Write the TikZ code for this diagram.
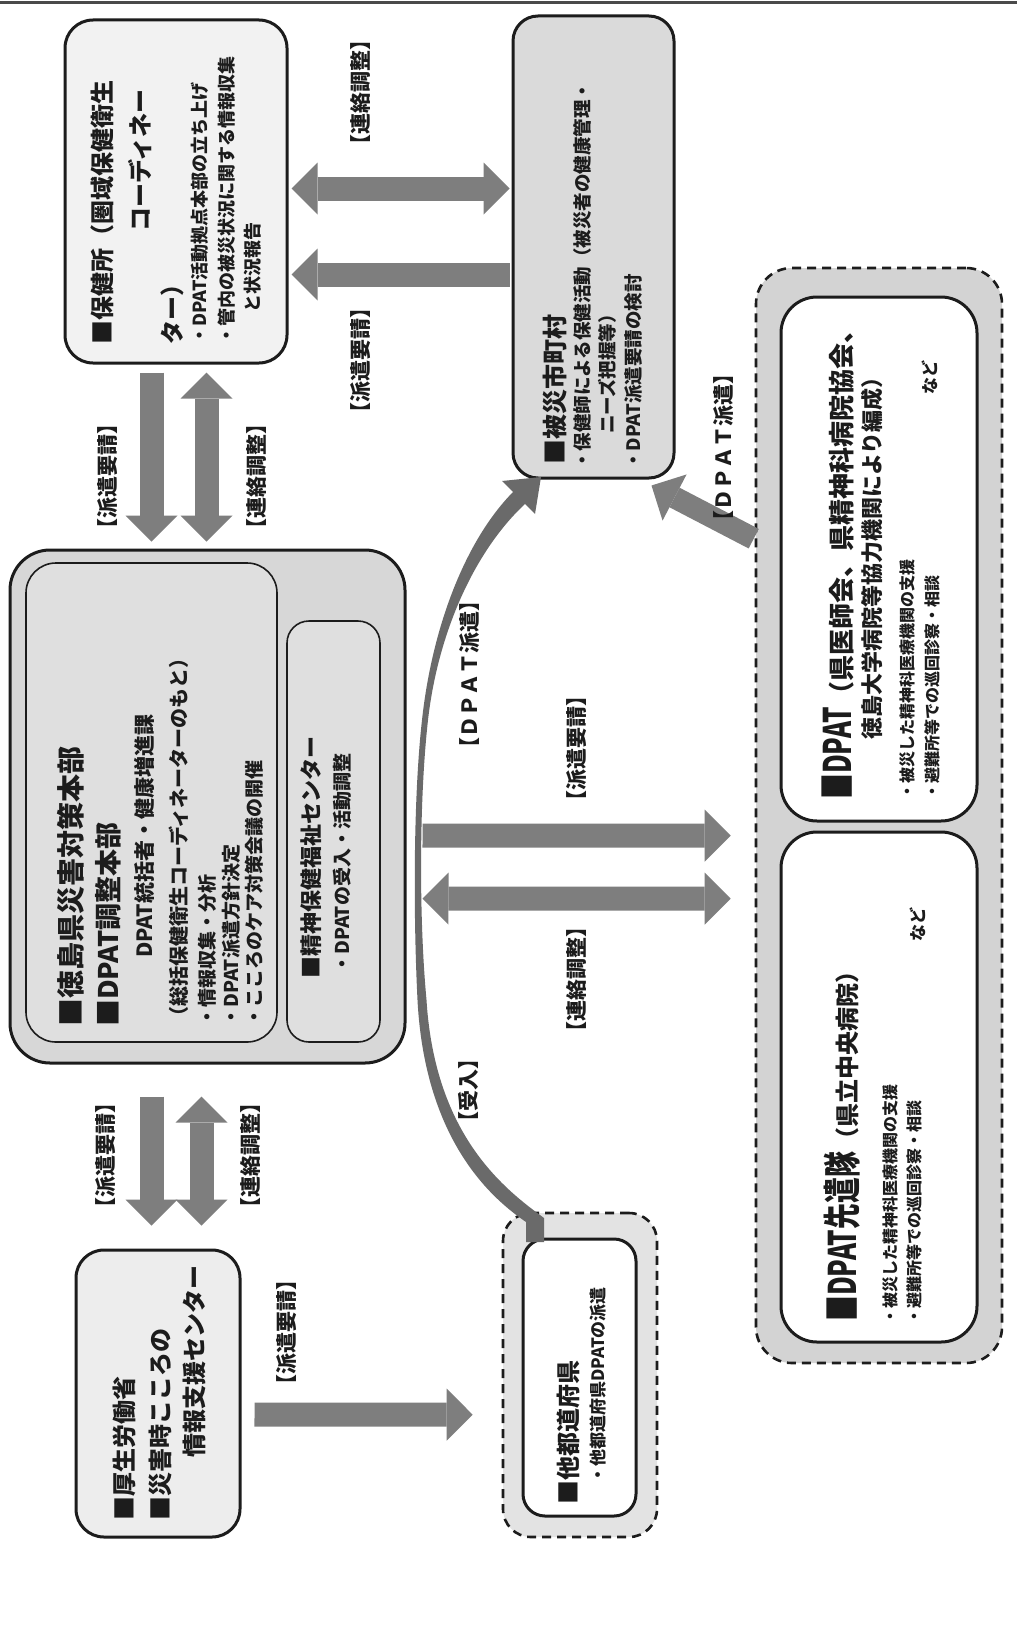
\documentclass[tikz,border=0pt]{standalone}
\usepackage{graphicx}
\usepackage{fontspec}
\setmainfont{Noto Sans CJK JP}
\usetikzlibrary{arrows.meta,calc}

\definecolor{ink}{HTML}{1C1C1C}
\definecolor{flowgray}{HTML}{7E7E7E}
\definecolor{curvegray}{HTML}{6A6A6A}
\definecolor{hokenfill}{HTML}{F2F2F2}
\definecolor{hisaifill}{HTML}{DADADA}
\definecolor{hqfill}{HTML}{D7D7D7}
\definecolor{hqinner}{HTML}{DFDFDF}
\definecolor{mhlwfill}{HTML}{EDEDED}
\definecolor{bandlight}{HTML}{E3E3E3}
\definecolor{banddark}{HTML}{D3D3D3}
\definecolor{ruleline}{HTML}{4A4A4A}

\newcommand{\fsz}[1]{\fontsize{#1}{#1}\selectfont}
\newcommand{\tightbox}[1]{\scalebox{0.68}[1]{#1}}

\tikzset{
  panel/.style={draw=ink, line width=3pt, rounded corners=#1, inner sep=0pt},
  subpanel/.style={draw=ink, line width=1.6pt, rounded corners=#1, inner sep=0pt, fill=hqinner},
  dashpanel/.style={draw=ink, line width=2.6pt, dash pattern=on 9pt off 6pt, rounded corners=#1, inner sep=0pt},
  vt/.style={rotate=90, anchor=west, inner sep=0pt, text=ink},
  head/.style={vt, font=\bfseries\fsz{#1}},
  body/.style={vt, font=\bfseries\fsz{#1}},
  tag/.style={rotate=90, inner sep=0pt, text=ink, font=\bfseries\fsz{21}},
  flow/.style={draw=flowgray, line width=24pt, -{Triangle[width=52pt,length=26pt,line width=0pt]}},
  flowboth/.style={draw=flowgray, line width=24pt, {Triangle[width=52pt,length=26pt,line width=0pt]}-{Triangle[width=52pt,length=26pt,line width=0pt]}},
}

\begin{document}
\begin{tikzpicture}[x=1pt,y=-1pt]
\fill[white] (0,0) rectangle (1017,1651);
\useasboundingbox (0,0) rectangle (1017,1651);

% rule along the top edge
\draw[ruleline, line width=3pt] (0,3) -- (1017,3);

% ---------- boxes ----------
\node[panel=28pt, fill=hokenfill, minimum width=222pt, minimum height=343pt] (hoken) at (176,191.5) {};
\node[panel=25pt, fill=hisaifill, minimum width=161pt, minimum height=462pt] (hisai) at (593.5,247) {};
\node[panel=40pt, fill=hqfill, minimum width=395pt, minimum height=513pt] (hq) at (207.5,806.5) {};
\node[subpanel=30pt, minimum width=251pt, minimum height=479pt] (adjust) at (151.5,802.5) {};
\node[subpanel=22pt, minimum width=93pt, minimum height=421pt] (mhc) at (333.5,831.5) {};
\node[panel=28pt, fill=mhlwfill, minimum width=164pt, minimum height=287pt] (mhlw) at (158,1393.5) {};
\node[dashpanel=28pt, fill=bandlight, minimum width=154pt, minimum height=324pt] (otherout) at (580,1375) {};
\node[panel=22pt, fill=white, minimum width=113pt, minimum height=277pt] (other) at (579.5,1377.5) {};
\node[dashpanel=36pt, fill=banddark, minimum width=246pt, minimum height=1095pt] (dpatout) at (879,815.5) {};
\node[panel=36pt, fill=white, minimum width=196pt, minimum height=524pt] (dpat) at (879,559) {};
\node[panel=36pt, fill=white, minimum width=196pt, minimum height=510pt] (advance) at (879,1087) {};

% ---------- block arrows ----------
\draw[flowboth] ($(hoken.north east)+(3,170)$) -- ($(hisai.north west)+(-2,174)$);
\draw[flow] ($(hisai.north west)+(-2,260)$) -- ($(hoken.north east)+(3,256)$);
\draw[flow] ($(hoken.south west)+(88,8)$) -- ($(hq.north west)+(143,-7)$);
\draw[flowboth] ($(hoken.south west)+(143,8)$) -- ($(hq.north west)+(198,-7)$);
\draw[flow] ($(hq.south west)+(143,32)$) -- ($(mhlw.north west)+(77,-23)$);
\draw[flowboth] ($(hq.south west)+(193,32)$) -- ($(mhlw.north west)+(127,-23)$);
\draw[flow] ($(mhlw.north east)+(13,166)$) -- ($(otherout.north west)+(-29,203)$);
\draw[flow] ($(hq.north east)+(16,287)$) -- ($(dpatout.north west)+(-24,569)$);
\draw[flowboth] ($(hq.north east)+(16,350)$) -- ($(dpatout.north west)+(-24,632)$);
\draw[flow, line width=22pt] ($(dpatout.north west)+(-1,272)$) -- ($(hisai.south east)+(-24,6)$);

% tapered curved arrow from the other prefectures to the municipalities
\coordinate (curvefoot) at (535,1242);
\coordinate (curvetip) at (541,477);
\fill[curvegray] (526,1242) -- (526,1222)
  .. controls (494,1200) and (425,1143) .. (417.5,1000)
  .. controls (413.5,920) and (413,800) .. (422,720)
  .. controls (432,628) and (465,540) .. (514,491)
  -- (526,503)
  .. controls (475,550) and (438,632) .. (428,720)
  .. controls (419,800) and (419,920) .. (426.5,1000)
  .. controls (435,1137) and (506,1190) .. (544,1218)
  -- (544,1242) -- cycle;
\fill[curvegray] (502,481) -- (curvetip) -- (535,514) -- cycle;

% ---------- texts: health centre ----------
\node[head=24] (hokenA) at (102,345) {■保健所（圏域保健衛生};
\node[head=24] (hokenB) at (140,232) {コーディネー};
\node[head=24] (hokenC) at (172,345) {ター）};
\node[body=18] (hokenD) at (200,345) {・DPAT活動拠点本部の立ち上げ};
\node[body=18] (hokenE) at (227,345) {・管内の被災状況に関する情報収集};
\node[body=18] (hokenF) at (253,313) {と状況報告};

% ---------- texts: municipalities ----------
\node[head=25] (hisaiA) at (555,465) {■被災市町村};
\node[body=18.5] (hisaiB) at (582,470) {・保健師による保健活動（被災者の健康管理・};
\node[body=18.5] (hisaiC) at (607,434) {ニーズ把握等）};
\node[body=18.5] (hisaiD) at (634,470) {・DPAT派遣要請の検討};

% ---------- texts: prefectural headquarters ----------
\node[head=28] (hqA) at (71,1027) {■徳島県災害対策本部};
\node[head=27] (hqB) at (108,1027) {■DPAT調整本部};
\node[head=21] (hqC) at (145,958) {DPAT統括者・健康増進課};
\node[head=20] (hqD) at (179,1027) {（総括保健衛生コーディネーターのもと）};
\node[body=19] (hqE) at (207,1027) {・情報収集・分析};
\node[body=19] (hqF) at (231,1027) {・DPAT派遣方針決定};
\node[body=19] (hqG) at (254,1027) {・こころのケア対策会議の開催};
\node[head=22] (mhcA) at (311,979) {■精神保健福祉センター};
\node[body=19] (mhcB) at (342,974) {・DPATの受入・活動調整};

% ---------- texts: ministry ----------
\node[head=24] (mhlwA) at (124,1521) {■厚生労働省};
\node[head=24] (mhlwB) at (160,1521) {■災害時こころの};
\node[head=24] (mhlwC) at (194,1458) {情報支援センター};

% ---------- texts: other prefectures ----------
\node[head=24] (otherA) at (568,1505) {■他都道府県};
\node[body=17] (otherB) at (598,1484) {・他都道府県DPATの派遣};

% ---------- texts: DPAT ----------
\node[vt, font=\bfseries] (dpatA) at (838,800) {{\fsz{38}\tightbox{■DPAT}}{\fsz{26}（県医師会、県精神科病院協会、}};
\node[head=22] (dpatB) at (872,740) {徳島大学病院等協力機関により編成）};
\node[body=16] (dpatC) at (907,800) {・被災した精神科医療機関の支援};
\node[body=16] (dpatD) at (932,800) {・避難所等での巡回診察・相談};
\node[body=17] (dpatE) at (930,395) {など};

\node[vt, font=\bfseries] (advA) at (842,1322) {{\fsz{38}\tightbox{■DPAT先遣隊}}{\fsz{24}（県立中央病院）}};
\node[body=16] (advB) at (890,1325) {・被災した精神科医療機関の支援};
\node[body=16] (advC) at (914,1325) {・避難所等での巡回診察・相談};
\node[body=17] (advD) at (918,942) {など};

% ---------- connector labels ----------
\node[tag] (tag1) at (361,92) {【連絡調整】};
\node[tag] (tag2) at (361,360) {【派遣要請】};
\node[tag] (tag3) at (108,476) {【派遣要請】};
\node[tag] (tag4) at (257,476) {【連絡調整】};
\node[tag] (tag5) at (106,1155) {【派遣要請】};
\node[tag] (tag6) at (251,1155) {【連絡調整】};
\node[tag] (tag7) at (287,1332) {【派遣要請】};
\node[tag] (tag8) at (577,748) {【派遣要請】};
\node[tag] (tag9) at (577,979) {【連絡調整】};
\node[tag] (tag10) at (470,674) {【ＤＰＡＴ派遣】};
\node[tag] (tag11) at (468,1090) {【受入】};
\node[tag] (tag12) at (724,447) {【ＤＰＡＴ派遣】};
\end{tikzpicture}
\end{document}
